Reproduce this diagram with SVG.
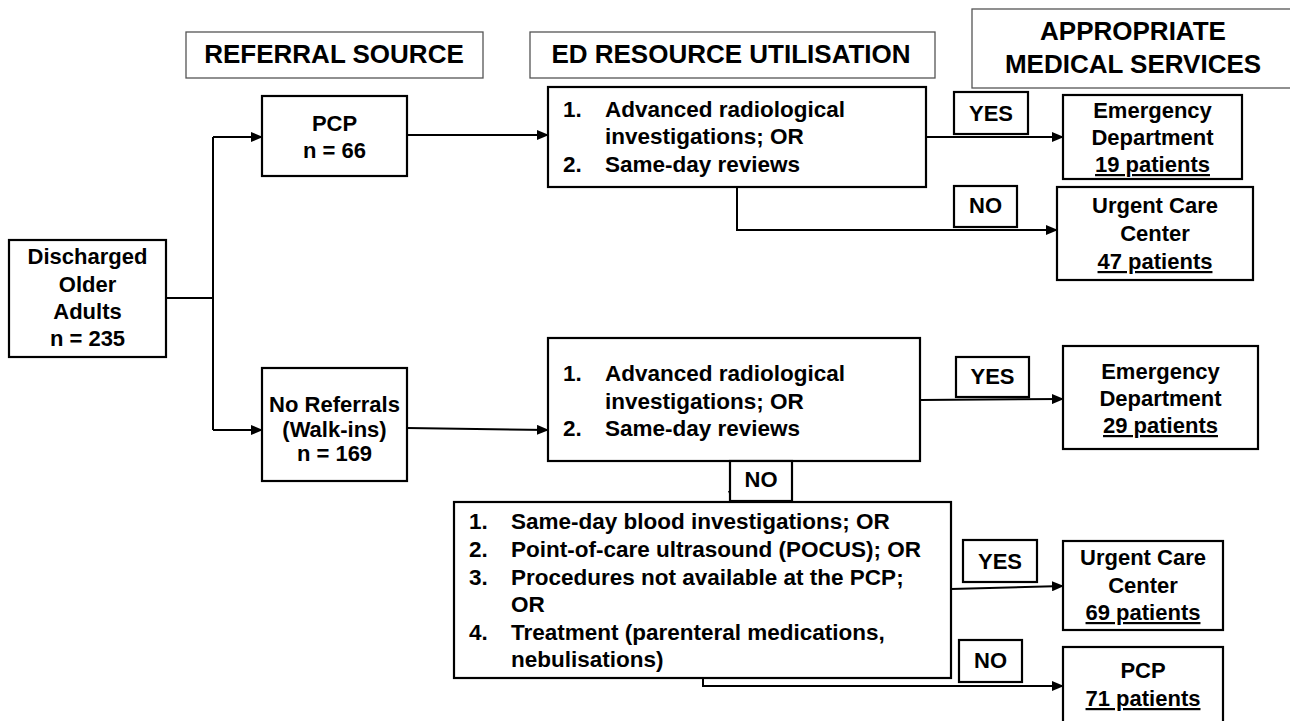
<svg xmlns="http://www.w3.org/2000/svg" width="1290" height="721" viewBox="0 0 1290 721">
<style>
.hdr{fill:#fff;stroke:#555;stroke-width:1.3}
.box{fill:#fff;stroke:#000;stroke-width:2.2}
text{font-family:"Liberation Sans",Arial,sans-serif;font-weight:bold;fill:#000}
.ht{font-size:26px;text-anchor:middle}
.nt{font-size:22px;text-anchor:middle}
.lt{font-size:22.5px}
.u{text-decoration:underline}
.conn{fill:none;stroke:#000;stroke-width:2}
</style>
<defs>
<marker id="ah" markerUnits="userSpaceOnUse" markerWidth="12" markerHeight="10" refX="11" refY="5" orient="auto">
<path d="M0,0 L12,5 L0,10 Z" fill="#000"/>
</marker>
</defs>
<rect width="1290" height="721" fill="#fff"/>

<g id="hdr-referral"><rect class="hdr" x="186" y="32" width="297" height="46"/><text class="ht" x="334" y="63">REFERRAL SOURCE</text></g>
<g id="hdr-ed"><rect class="hdr" x="530" y="32" width="405" height="46"/><text class="ht" x="731" y="63">ED RESOURCE UTILISATION</text></g>
<g id="hdr-services"><rect class="hdr" x="972" y="9" width="330" height="79"/><text class="ht" x="1133" y="40">APPROPRIATE</text><text class="ht" x="1133" y="73">MEDICAL SERVICES</text></g>

<g id="connectors">
<path class="conn" d="M166,298 H213"/>
<path class="conn" d="M213,137 V430"/>
<path class="conn" d="M213,137 H262" marker-end="url(#ah)"/>
<path class="conn" d="M213,430 H262" marker-end="url(#ah)"/>
<path class="conn" d="M407,135 H548" marker-end="url(#ah)"/>
<path class="conn" d="M926,137 H1063" marker-end="url(#ah)"/>
<path class="conn" d="M737,187 V230 H1057" marker-end="url(#ah)"/>
<path class="conn" d="M407,428 L548,430" marker-end="url(#ah)"/>
<path class="conn" d="M920,400 L1063,399" marker-end="url(#ah)"/>
<path class="conn" d="M733,461 V502" marker-end="url(#ah)"/>
<path class="conn" d="M951,589 L1063,586" marker-end="url(#ah)"/>
<path class="conn" d="M703,678 V686 H1063" marker-end="url(#ah)"/>
</g>

<g id="discharged"><rect class="box" x="9" y="240" width="157" height="117"/>
<text class="nt" x="87.5" y="264">Discharged</text><text class="nt" x="87.5" y="291.5">Older</text><text class="nt" x="87.5" y="319">Adults</text><text class="nt" x="87.5" y="346">n = 235</text></g>

<g id="pcp-ref"><rect class="box" x="262" y="96" width="145" height="80"/>
<text class="nt" x="334.5" y="131">PCP</text><text class="nt" x="334.5" y="158">n = 66</text></g>

<g id="no-ref"><rect class="box" x="262" y="368" width="145" height="113"/>
<text class="nt" x="334.5" y="412">No Referrals</text><text class="nt" x="334.5" y="437">(Walk-ins)</text><text class="nt" x="334.5" y="461">n = 169</text></g>

<g id="ed1"><rect class="box" x="548" y="87" width="378" height="100"/>
<text class="lt" x="563" y="117">1.</text><text class="lt" x="605" y="117">Advanced radiological</text>
<text class="lt" x="605" y="144">investigations; OR</text>
<text class="lt" x="563" y="172">2.</text><text class="lt" x="605" y="172">Same-day reviews</text></g>

<g id="ed2"><rect class="box" x="548" y="338" width="372" height="123"/>
<text class="lt" x="563" y="381">1.</text><text class="lt" x="605" y="381">Advanced radiological</text>
<text class="lt" x="605" y="409">investigations; OR</text>
<text class="lt" x="563" y="436">2.</text><text class="lt" x="605" y="436">Same-day reviews</text></g>

<g id="ed3"><rect class="box" x="454" y="502" width="497" height="176"/>
<text class="lt" x="469" y="529">1.</text><text class="lt" x="511" y="529">Same-day blood investigations; OR</text>
<text class="lt" x="469" y="557">2.</text><text class="lt" x="511" y="557">Point-of-care ultrasound (POCUS); OR</text>
<text class="lt" x="469" y="584.5">3.</text><text class="lt" x="511" y="584.5">Procedures not available at the PCP;</text>
<text class="lt" x="511" y="612">OR</text>
<text class="lt" x="469" y="639.5">4.</text><text class="lt" x="511" y="639.5">Treatment (parenteral medications,</text>
<text class="lt" x="511" y="667">nebulisations)</text></g>

<g id="yes1"><rect class="box" x="954" y="92" width="74" height="42"/><text class="nt" x="991" y="121">YES</text></g>
<g id="no1"><rect class="box" x="954" y="186" width="63" height="41"/><text class="nt" x="985.5" y="213">NO</text></g>
<g id="yes2"><rect class="box" x="956" y="357" width="73" height="40"/><text class="nt" x="992.5" y="384">YES</text></g>
<g id="no2"><rect class="box" x="730" y="461" width="62" height="40"/><text class="nt" x="761" y="487">NO</text></g>
<g id="yes3"><rect class="box" x="963" y="540" width="74" height="42"/><text class="nt" x="1000" y="569">YES</text></g>
<g id="no3"><rect class="box" x="959" y="640" width="63" height="42"/><text class="nt" x="990.5" y="668">NO</text></g>

<g id="ed-1"><rect class="box" x="1063" y="95" width="179" height="84"/>
<text class="nt" x="1152.5" y="118">Emergency</text><text class="nt" x="1152.5" y="145">Department</text><text class="nt u" x="1152.5" y="172">19 patients</text></g>

<g id="ucc-1"><rect class="box" x="1057" y="187" width="196" height="93"/>
<text class="nt" x="1155" y="213">Urgent Care</text><text class="nt" x="1155" y="241">Center</text><text class="nt u" x="1155" y="269">47 patients</text></g>

<g id="ed-2"><rect class="box" x="1063" y="346" width="195" height="103"/>
<text class="nt" x="1160.5" y="379">Emergency</text><text class="nt" x="1160.5" y="406">Department</text><text class="nt u" x="1160.5" y="433">29 patients</text></g>

<g id="ucc-2"><rect class="box" x="1063" y="541" width="160" height="89"/>
<text class="nt" x="1143" y="565">Urgent Care</text><text class="nt" x="1143" y="593">Center</text><text class="nt u" x="1143" y="620">69 patients</text></g>

<g id="pcp-2"><rect class="box" x="1063" y="647" width="160" height="90"/>
<text class="nt" x="1143" y="678">PCP</text><text class="nt u" x="1143" y="706">71 patients</text></g>
</svg>
